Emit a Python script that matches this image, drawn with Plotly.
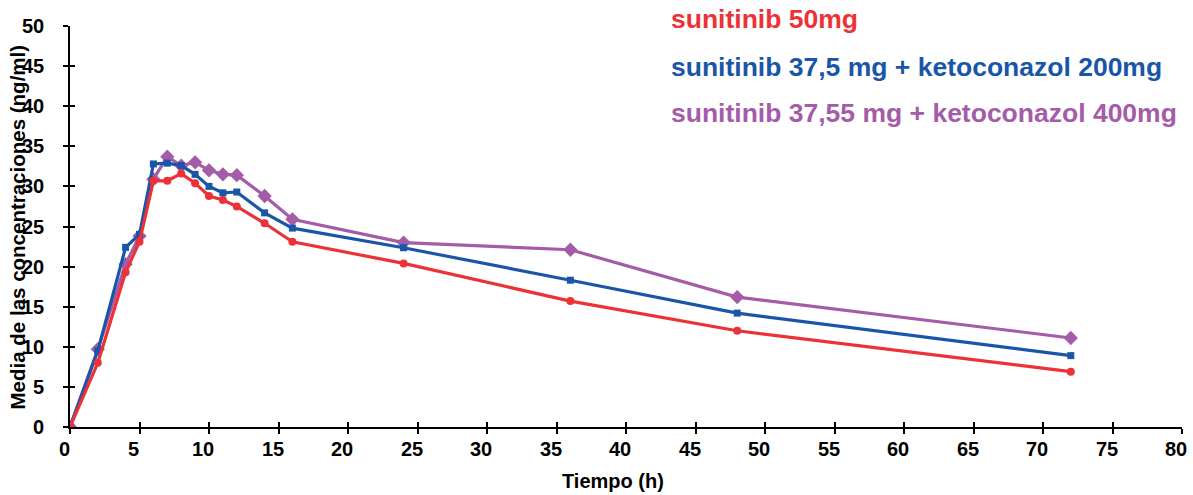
import plotly.graph_objects as go

# Sampling times (h)
tiempo = [0, 2, 4, 5, 6, 7, 8, 9, 10, 11, 12, 14, 16, 24, 36, 48, 72]

# Mean plasma concentrations (ng/ml)
suni_50 = [0, 8.0, 19.3, 23.1, 30.7, 30.7, 31.6, 30.4, 28.8, 28.3, 27.5, 25.4, 23.1, 20.4, 15.7, 12.0, 6.9]
suni_keto200 = [0, 9.5, 22.4, 24.0, 32.8, 32.9, 32.6, 31.5, 30.0, 29.2, 29.3, 26.7, 24.8, 22.35, 18.3, 14.2, 8.9]
suni_keto400 = [0, 9.7, 20.3, 23.8, 30.9, 33.7, 32.6, 33.0, 32.0, 31.5, 31.4, 28.8, 25.9, 23.0, 22.1, 16.2, 11.1]

series_names = [
    "sunitinib 50mg",
    "sunitinib 37,5 mg + ketoconazol 200mg",
    "sunitinib 37,55 mg + ketoconazol 400mg",
]

x_ticks = list(range(0, 81, 5))
y_ticks = list(range(0, 51, 5))

RED = "#EC3237"
BLUE = "#1A56A8"
PURPLE = "#A45BA8"
FONT = "Liberation Sans, Arial, sans-serif"

fig = go.Figure()

# purple drawn first so the other series sit on top
traces = [
    (suni_keto400, series_names[2], PURPLE, "diamond", 11),
    (suni_keto200, series_names[1], BLUE, "square", 7),
    (suni_50, series_names[0], RED, "circle", 8),
]
for vals, name, color, symbol, size in traces:
    fig.add_trace(go.Scatter(
        x=tiempo, y=vals, name=name, mode="lines+markers",
        line=dict(color=color, width=3.2),
        marker=dict(color=color, symbol=symbol, size=size),
        showlegend=False,
    ))

# second pair of axes with inside ticks so tick marks cross the axis lines
fig.add_trace(go.Scatter(x=[None], y=[None], xaxis="x2", yaxis="y2", showlegend=False, hoverinfo="skip"))

axis_common = dict(showgrid=False, zeroline=False, showline=True, linecolor="black", linewidth=1.5,
                   tickcolor="black", tickwidth=1.5, ticklen=5, showticklabels=False, automargin=False)

fig.update_layout(
    width=1193, height=495,
    margin=dict(l=70, r=11, t=26, b=68, autoexpand=False),
    plot_bgcolor="white", paper_bgcolor="white",
    font=dict(family=FONT, color="black"),
    xaxis=dict(range=[0, 80], tickvals=x_ticks, ticks="outside", **axis_common),
    yaxis=dict(range=[0, 50], tickvals=y_ticks, ticks="outside", **axis_common),
    xaxis2=dict(range=[0, 80], tickvals=x_ticks, ticks="inside", overlaying="x", **axis_common),
    yaxis2=dict(range=[0, 50], tickvals=y_ticks, ticks="inside", overlaying="y", **axis_common),
)

# bold tick labels
tick_font = dict(size=20, family=FONT, color="black")
for v in x_ticks:
    fig.add_annotation(text=f"<b>{v}</b>", x=v, y=-0.0557, xref="x", yref="paper", xshift=-6,
                       xanchor="center", yanchor="middle", showarrow=False, font=tick_font)
for v in y_ticks:
    fig.add_annotation(text=f"<b>{v}</b>", x=-0.0216, y=v, xref="paper", yref="y",
                       xanchor="right", yanchor="middle", showarrow=False, font=tick_font)

# axis titles
fig.add_annotation(text="<b>Tiempo (h)</b>", xref="paper", yref="paper", x=0.488, y=-0.1355,
                   xanchor="center", yanchor="middle", showarrow=False,
                   font=dict(size=20, family=FONT, color="black"))
fig.add_annotation(text="<b>Media de las concentraciones (ng/ml)</b>", xref="paper", yref="paper",
                   x=-0.0468, y=0.5, xanchor="center", yanchor="middle", textangle=-90, showarrow=False,
                   font=dict(size=20.5, family=FONT, color="black"))

# series labels in the upper right
for name, color, yv in [(series_names[0], RED, 1.017), (series_names[1], BLUE, 0.898), (series_names[2], PURPLE, 0.783)]:
    fig.add_annotation(text=f"<b>{name}</b>", x=0.539, y=yv, xref="paper", yref="paper",
                       xanchor="left", yanchor="middle", showarrow=False,
                       font=dict(size=26.5, family=FONT, color=color))

fig.write_html("out.html")
